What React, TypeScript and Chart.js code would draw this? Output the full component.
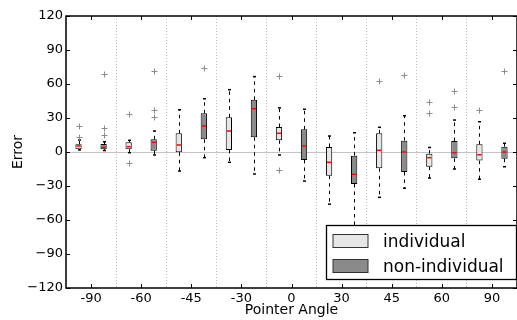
import { useEffect, useRef } from 'react';
import { Chart, registerables } from 'chart.js';

Chart.register(...registerables);

const categories = ['-90', '-60', '-45', '-30', '0', '30', '45', '60', '90'];
const yTickValues = [-120, -90, -60, -30, 0, 30, 60, 90, 120];
const seriesNames = ['individual', 'non-individual'];

// individual
const indLow = [1.8, -0.6, -16.8, -9.1, -2.6, -46, -40, -23, -24];
const indQ1 = [2.4, 2.4, -0.3, 1.8, 10.3, -20.9, -14.4, -13, -7.6];
const indMed = [5.3, 4.7, 6.2, 18.5, 16.5, -9.1, 1.5, -5, -2.4];
const indQ3 = [6.8, 8.5, 16.5, 30.6, 22, 4.4, 16.5, -1.5, 6.8];
const indHigh = [10.6, 10.3, 37.3, 55, 39, 14.1, 21.8, 4, 26.7];
const indOut = [[22.7, 13.5], [33.3, -10], [], [], [66.8, -15.9], [], [62.4], [44.4, 34.4], [36.8]];

// non-individual
const nonLow = [1.3, -2.6, -5, -19.4, -25.6, -75, -32, -15, -13];
const nonQ1 = [2.4, 1.2, 11.2, 13, -7, -28.2, -17.6, -5.6, -5.9];
const nonMed = [4.1, 8.5, 23, 38.2, 5.3, -19.7, 0, -0.6, 0];
const nonQ3 = [7, 11.2, 34.2, 46, 20, -3.2, 10, 9.7, 4.7];
const nonHigh = [9, 18.5, 47, 66.5, 37.7, 17, 32, 28.2, 7.7];
const nonOut = [[68.6, 21.2, 15.3], [71.8, 37.3, 31.2], [73.9], [], [], [], [68], [53.8, 40], [71.8]];

const FONT = 'DejaVu Sans';
const fills = ['#e6e6e6', '#8a8a8a'];

const stats = [
  { low: indLow, q1: indQ1, med: indMed, q3: indQ3, high: indHigh, out: indOut },
  { low: nonLow, q1: nonQ1, med: nonMed, q3: nonQ3, high: nonHigh, out: nonOut },
];

const boxPlugin = {
  id: 'boxExtras',
  beforeDatasetsDraw(chart: any) {
    const { ctx, chartArea } = chart;
    const y = chart.scales.y;
    ctx.save();
    ctx.beginPath();
    ctx.rect(chartArea.left, chartArea.top, chartArea.right - chartArea.left, chartArea.bottom - chartArea.top);
    ctx.clip();
    stats.forEach((s, di) => {
      const meta = chart.getDatasetMeta(di);
      meta.data.forEach((bar: any, j: number) => {
        const x = Math.round(bar.x) + 0.5;
        ctx.strokeStyle = '#000';
        ctx.lineWidth = 1;
        ctx.setLineDash([3.5, 4]);
        ctx.beginPath();
        ctx.moveTo(x, y.getPixelForValue(s.q3[j]));
        ctx.lineTo(x, y.getPixelForValue(s.high[j]));
        ctx.stroke();
        ctx.beginPath();
        ctx.moveTo(x, y.getPixelForValue(s.q1[j]));
        ctx.lineTo(x, y.getPixelForValue(s.low[j]));
        ctx.stroke();
      });
    });
    ctx.restore();
  },
  afterDatasetsDraw(chart: any) {
    const { ctx, chartArea } = chart;
    const y = chart.scales.y;
    ctx.save();
    ctx.beginPath();
    ctx.rect(chartArea.left, chartArea.top, chartArea.right - chartArea.left, chartArea.bottom - chartArea.top);
    ctx.clip();
    stats.forEach((s, di) => {
      const meta = chart.getDatasetMeta(di);
      meta.data.forEach((bar: any, j: number) => {
        const x = Math.round(bar.x) + 0.5;
        const w = bar.width;
        // caps
        ctx.setLineDash([]);
        ctx.strokeStyle = '#000';
        ctx.lineWidth = 1.5;
        const cw = 1.5;
        [s.high[j], s.low[j]].forEach((v) => {
          const py = y.getPixelForValue(v);
          ctx.beginPath();
          ctx.moveTo(x - cw, py);
          ctx.lineTo(x + cw, py);
          ctx.stroke();
        });
        // median
        ctx.strokeStyle = '#ff0000';
        ctx.lineWidth = 1.5;
        const my = y.getPixelForValue(s.med[j]);
        ctx.beginPath();
        ctx.moveTo(bar.x - w / 2 + 1, my);
        ctx.lineTo(bar.x + w / 2 - 1, my);
        ctx.stroke();
        // outliers
        ctx.strokeStyle = '#8c8c8c';
        ctx.lineWidth = 1;
        s.out[j].forEach((v) => {
          const py = Math.round(y.getPixelForValue(v)) + 0.5;
          ctx.beginPath();
          ctx.moveTo(x - 3, py);
          ctx.lineTo(x + 3, py);
          ctx.moveTo(x, py - 3);
          ctx.lineTo(x, py + 3);
          ctx.stroke();
        });
      });
    });
    ctx.restore();
  },
  afterDraw(chart: any) {
    const { ctx, chartArea } = chart;
    const { left, right, top, bottom } = chartArea;
    const x = chart.scales.x;
    const y = chart.scales.y;
    ctx.save();
    ctx.setLineDash([]);
    ctx.strokeStyle = '#000';
    // inner ticks
    ctx.lineWidth = 1;
    y.ticks.forEach((t: any) => {
      const py = Math.round(y.getPixelForValue(t.value)) + 0.5;
      ctx.beginPath();
      ctx.moveTo(left, py);
      ctx.lineTo(left + 4, py);
      ctx.moveTo(right, py);
      ctx.lineTo(right - 4, py);
      ctx.stroke();
    });
    x.ticks.forEach((_t: any, i: number) => {
      const px = Math.round(x.getPixelForValue(i)) + 0.5;
      ctx.beginPath();
      ctx.moveTo(px, top);
      ctx.lineTo(px, top + 4);
      ctx.moveTo(px, bottom);
      ctx.lineTo(px, bottom - 4);
      ctx.stroke();
    });
    // frame
    ctx.lineWidth = 1.5;
    ctx.strokeRect(left, top, right - left, bottom - top);

    // legend
    const lx = 326.5;
    const ly = 225.5;
    const lw = 190;
    const lh = 54;
    ctx.fillStyle = '#fff';
    ctx.fillRect(lx, ly, lw, lh);
    ctx.lineWidth = 1.3;
    ctx.strokeStyle = '#000';
    ctx.strokeRect(lx, ly, lw, lh);
    const rows = [234.5, 259.5];
    seriesNames.forEach((name, i) => {
      ctx.fillStyle = fills[i];
      ctx.fillRect(333, rows[i], 35, 13);
      ctx.lineWidth = 1;
      ctx.strokeStyle = '#333';
      ctx.strokeRect(333, rows[i], 35, 13);
      ctx.fillStyle = '#000';
      ctx.font = `17px "${FONT}"`;
      ctx.textBaseline = 'alphabetic';
      ctx.textAlign = 'left';
      ctx.fillText(name, 383, rows[i] + 12.5);
    });
    ctx.restore();
  },
};

export default function App() {
  const ref = useRef<HTMLCanvasElement>(null);
  useEffect(() => {
    const canvas = ref.current;
    if (!canvas) return;
    const chart = new Chart(canvas, {
      type: 'bar',
      data: {
        labels: categories,
        datasets: stats.map((s, i) => ({
          label: seriesNames[i],
          data: s.q1.map((q, j) => [q, s.q3[j]]),
          backgroundColor: fills[i],
          borderColor: '#000',
          borderWidth: 1,
          borderSkipped: false,
          categoryPercentage: 1,
          barPercentage: 0.25,
        })),
      },
      options: {
        responsive: false,
        animation: false,
        devicePixelRatio: 1,
        layout: { padding: { top: 16, right: -2, left: 0, bottom: 0 } },
        plugins: { legend: { display: false }, tooltip: { enabled: false } },
        scales: {
          x: {
            type: 'category',
            offset: true,
            grid: { offset: true, color: '#bdbdbd', lineWidth: 1, drawTicks: false },
            border: { display: false, dash: [1, 2] },
            ticks: { font: { family: FONT, size: 13 }, color: '#000', padding: 3, maxRotation: 0, autoSkip: false },
            title: {
              display: true,
              text: 'Pointer Angle',
              font: { family: FONT, size: 14 },
              color: '#000',
              padding: { top: 0, bottom: 1 },
            },
            afterFit: (s: any) => {
              s.height = 32;
            },
          },
          y: {
            min: -120,
            max: 120,
            afterBuildTicks: (s: any) => {
              s.ticks = yTickValues.map((v) => ({ value: v }));
            },
            grid: {
              drawTicks: false,
              color: (c: any) => (c.tick && c.tick.value === 0 ? '#c4c4c4' : 'rgba(0,0,0,0)'),
              lineWidth: 1,
            },
            border: { display: false },
            ticks: {
              font: { family: FONT, size: 13 },
              color: '#000',
              padding: 3,
              callback: (v: any) => (Number(v) < 0 ? '\u2212' + Math.abs(Number(v)) : String(v)),
            },
            title: {
              display: true,
              text: 'Error',
              font: { family: FONT, size: 14 },
              color: '#000',
              padding: { top: 9.5, bottom: 0 },
            },
            afterFit: (s: any) => {
              s.width = 66;
            },
          },
        },
      },
      plugins: [boxPlugin],
    });
    return () => chart.destroy();
  }, []);
  return (
    <div style={{ position: 'absolute', left: 0, top: 0, width: 517, height: 320, background: '#fff' }}>
      <canvas ref={ref} width={517} height={320} style={{ display: 'block' }} />
    </div>
  );
}
